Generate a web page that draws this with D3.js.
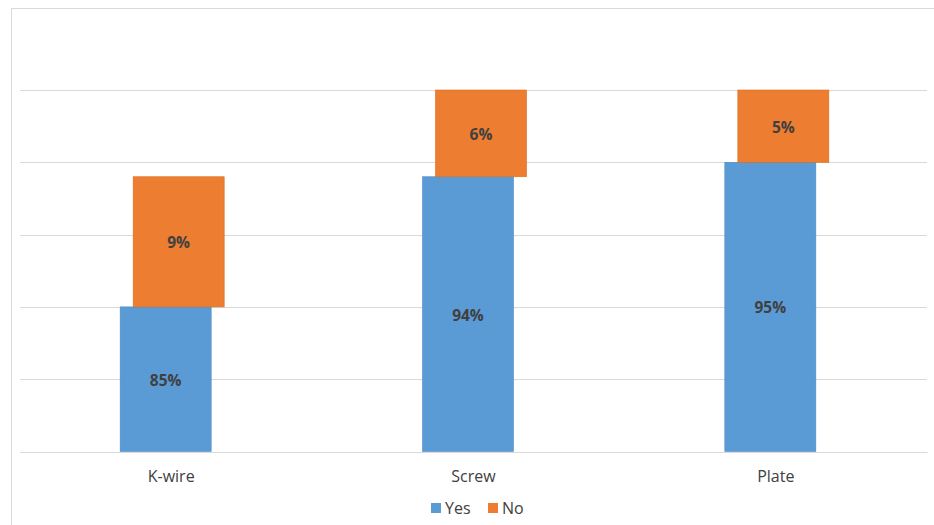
<!DOCTYPE html>
<html>
<head>
<meta charset="utf-8">
<script src="https://cdn.jsdelivr.net/npm/d3@7"></script>
<style>
  html, body { margin: 0; padding: 0; background: #fff; }
  svg { display: block; }
</style>
</head>
<body>
<svg id="chart" width="934" height="525"></svg>
<script>
// Fixation method outcome shares
const categories = ["K-wire", "Screw", "Plate"];
const yesValues = [85, 94, 95];
const noValues = [9, 6, 5];
const seriesNames = ["Yes", "No"];
const seriesColors = ["#5b9bd5", "#ed7d31"];
const gridTicks = [75, 80, 85, 90, 95, 100];

const svg = d3.select("#chart");
const W = 934, H = 525;
const plot = { left: 20, right: 927, top: 90, bottom: 451.5 };

// chart frame
svg.append("rect")
  .attr("x", 11.5).attr("y", 8.5)
  .attr("width", W).attr("height", H)
  .attr("fill", "#fff").attr("stroke", "#d9d9d9").attr("stroke-width", 1);

const x = d3.scaleBand().domain(categories).range([plot.left, plot.right]).paddingInner(0).paddingOuter(0);
const y = d3.scaleLinear().domain([75, 100]).range([plot.bottom, plot.top]);

// gridlines
svg.append("g").selectAll("line").data(gridTicks).join("line")
  .attr("x1", plot.left).attr("x2", plot.right)
  .attr("y1", d => Math.round(y(d)) + 0.5).attr("y2", d => Math.round(y(d)) + 0.5)
  .attr("stroke", "#d9d9d9").attr("stroke-width", 1);

const rows = categories.map((c, i) => ({ cat: c, yes: yesValues[i], no: noValues[i] }));
const barW = 91;
// blue sits left of the category centre, orange a step to the right
const offsets = { Yes: -51, No: -38 };

// Yes bars
svg.append("g").selectAll("rect").data(rows).join("rect")
  .attr("x", d => x(d.cat) + x.bandwidth() / 2 + offsets.Yes)
  .attr("width", barW)
  .attr("y", d => y(d.yes))
  .attr("height", d => y(75) - y(d.yes))
  .attr("fill", seriesColors[0])
  .attr("stroke", "#4a8ac6").attr("stroke-width", 0.6);

// No bars stacked on top of Yes
svg.append("g").selectAll("rect").data(rows).join("rect")
  .attr("x", d => x(d.cat) + x.bandwidth() / 2 + offsets.No)
  .attr("width", barW)
  .attr("y", d => y(d.yes + d.no))
  .attr("height", d => y(d.yes) - y(d.yes + d.no))
  .attr("fill", seriesColors[1])
  .attr("stroke", "#d96c20").attr("stroke-width", 0.6);

// value labels
const labelFont = "'Open Sans', 'Noto Sans', sans-serif";
svg.append("g").selectAll("text").data(rows).join("text")
  .attr("x", d => x(d.cat) + x.bandwidth() / 2 + offsets.Yes + barW / 2)
  .attr("y", d => (y(d.yes) + y(75)) / 2 + 6.5)
  .attr("text-anchor", "middle")
  .attr("font-family", labelFont).attr("font-size", 15.5).attr("font-weight", "bold")
  .attr("fill", "#404040")
  .text(d => d.yes + "%");

svg.append("g").selectAll("text").data(rows).join("text")
  .attr("x", d => x(d.cat) + x.bandwidth() / 2 + offsets.No + barW / 2)
  .attr("y", d => (y(d.yes) + y(d.yes + d.no)) / 2 + 6.5)
  .attr("text-anchor", "middle")
  .attr("font-family", labelFont).attr("font-size", 15.5).attr("font-weight", "bold")
  .attr("fill", "#404040")
  .text(d => d.no + "%");

// category axis
const xAxis = svg.append("g")
  .attr("transform", `translate(0,${plot.bottom + 0.5})`)
  .call(d3.axisBottom(x).tickSize(0).tickPadding(19));
xAxis.select(".domain").attr("stroke", "#d9d9d9");
xAxis.selectAll("text")
  .attr("font-family", labelFont).attr("font-size", 16)
  .attr("fill", "#404040");

// legend
const legend = svg.append("g").attr("transform", "translate(431,503)");
const legendItems = [{ name: "Yes", dx: 0 }, { name: "No", dx: 57 }];
legendItems.forEach((it, i) => {
  const g = legend.append("g").attr("transform", `translate(${it.dx},0)`);
  g.append("rect").attr("x", 0).attr("y", 0).attr("width", 10).attr("height", 10)
    .attr("fill", seriesColors[i]);
  g.append("text").attr("x", 14).attr("y", 11)
    .attr("font-family", labelFont).attr("font-size", 16)
    .attr("fill", "#404040").text(it.name);
});
</script>
</body>
</html>
